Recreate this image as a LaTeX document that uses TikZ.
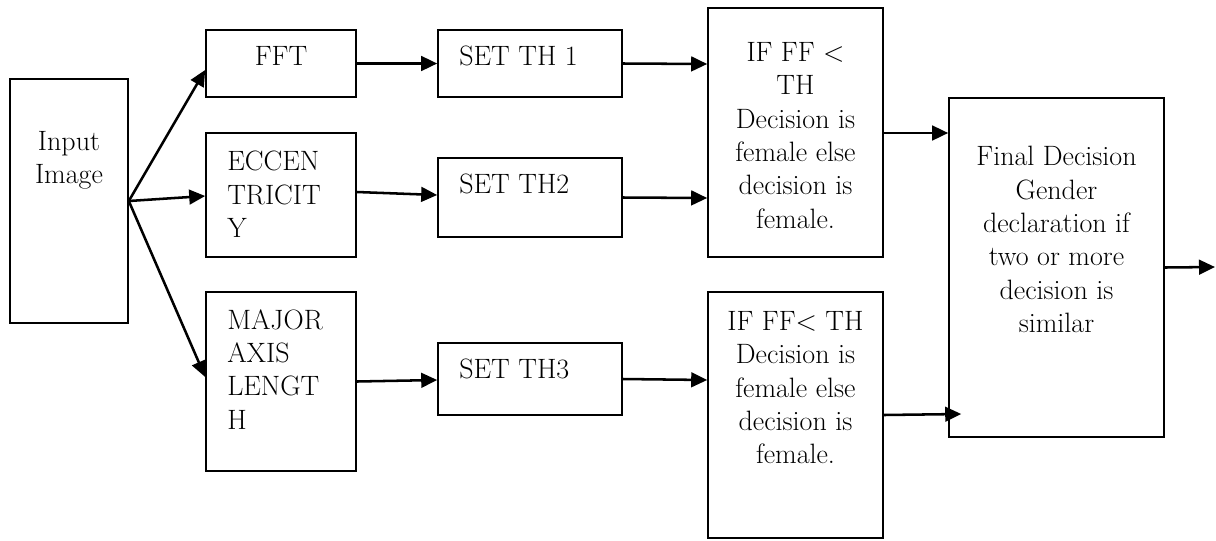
\documentclass[tikz,border=0pt]{standalone}
\usetikzlibrary{arrows.meta,calc}
\begin{document}
\begin{tikzpicture}[x=0.75pt,y=-0.75pt,
  box/.style={draw, line width=1.2pt, inner sep=0pt},
  txt/.style={inner sep=0pt, font=\fontsize{21}{25}\selectfont},
  arr/.style={line width=1.9pt, -{Triangle[length=12pt,width=11pt]}}]
\useasboundingbox (0,0) rectangle (1216,540);
% boxes
\node[box, minimum width=88.5pt, minimum height=183pt] (inp) at (69,201) {};
\node[box, minimum width=112.5pt, minimum height=50.25pt] (fft) at (281,63.5) {};
\node[box, minimum width=112.5pt, minimum height=93pt] (ecc) at (281,195) {};
\node[box, minimum width=112.5pt, minimum height=134.25pt] (maj) at (281,381.5) {};
\node[box, minimum width=138pt, minimum height=50.25pt] (th1) at (530,63.5) {};
\node[box, minimum width=138pt, minimum height=59.25pt] (th2) at (530,197.5) {};
\node[box, minimum width=138pt, minimum height=54pt] (th3) at (530,379) {};
\node[box, minimum width=131.25pt, minimum height=186.75pt] (if1) at (795.5,132.5) {};
\node[box, minimum width=131.25pt, minimum height=184.5pt] (if2) at (795.5,415) {};
\node[box, minimum width=161.25pt, minimum height=254.25pt] (fin) at (1056.5,267.5) {};
% texts
\node[txt, align=center, anchor=north] (inpt) at (69,131) {Input\\Image};
\node[txt, anchor=north] (fftt) at (281,46) {FFT};
\node[txt, align=left, anchor=north west] (ecct) at (227,151) {ECCEN\\TRICIT\\Y};
\node[txt, align=left, anchor=north west] (majt) at (227,309) {MAJOR\\AXIS\\LENGT\\H};
\node[txt, anchor=north west] (th1t) at (459,46) {SET TH 1};
\node[txt, anchor=north west] (th2t) at (459,174) {SET TH2};
\node[txt, anchor=north west] (th3t) at (459,359) {SET TH3};
\node[txt, align=center, anchor=north] (if1t) at (795.5,42) {IF FF <\\TH\\Decision is\\female else\\decision is\\female.};
\node[txt, align=center, anchor=north] (if2t) at (795.5,311) {IF FF< TH\\Decision is\\female else\\decision is\\female.};
\node[txt, align=center, anchor=north] (fint) at (1056.5,146) {Final Decision\\Gender\\declaration if\\two or more\\decision is\\similar};
% free ends
\coordinate (finin) at ($(fin.west)+(13,146.5)$);
\coordinate (out) at (1215,267);
% connectors
\draw[arr] (inp.east) -- ($(fft.west)+(0,6.5)$);
\draw[arr] (inp.east) -- ($(ecc.west)+(0,1)$);
\draw[arr] (inp.east) -- ($(maj.west)+(0,-4.5)$);
\draw[arr] (fft.east) -- (th1.west);
\draw[arr] ($(ecc.east)+(0,-3)$) -- ($(th2.west)+(0,-2.5)$);
\draw[arr] (maj.east) -- ($(th3.west)+(0,1)$);
\draw[arr] (th1.east) -- ($(if1.west)+(0,-68.5)$);
\draw[arr] (th2.east) -- ($(if1.west)+(0,65.5)$);
\draw[arr] (th3.east) -- ($(if2.west)+(0,-35)$);
\draw[arr] ($(if1.east)+(0,0.5)$) -- ($(fin.west)+(0,-134.5)$);
\draw[arr] (if2.east) -- (finin);
\draw[arr] (fin.east) -- (out);
\end{tikzpicture}
\end{document}
